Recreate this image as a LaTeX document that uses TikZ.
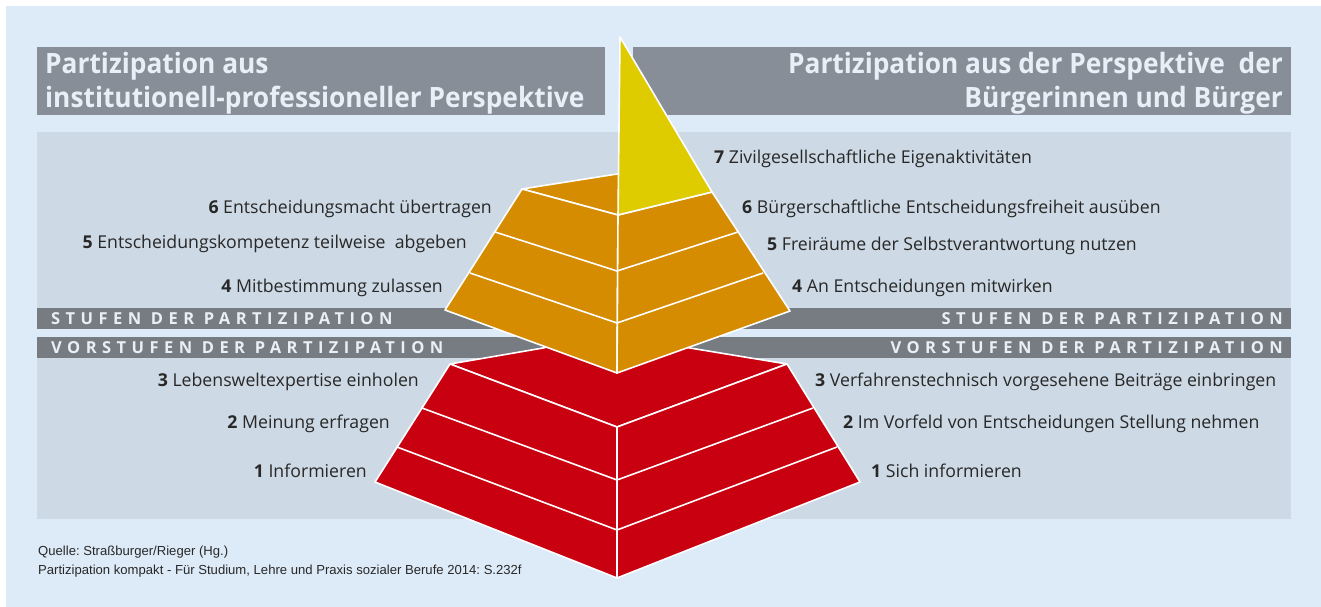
\documentclass[tikz,border=0pt]{standalone}
\usepackage{fontspec}
\setmainfont{Open Sans}
\newfontfamily\titlefont[FakeStretch=0.94]{Open Sans}
\newfontfamily\spacedfont[LetterSpace=33]{Open Sans}
\newfontfamily\srcfont{Liberation Sans}
\definecolor{outerbg}{RGB}{221,234,247}
\definecolor{panel}{RGB}{205,217,228}
\definecolor{titlegray}{RGB}{136,142,151}
\definecolor{bargray}{RGB}{118,124,130}
\definecolor{paletext}{RGB}{232,239,246}
\definecolor{pyyellow}{RGB}{222,203,0}
\definecolor{pyorange}{RGB}{214,140,0}
\definecolor{pyred}{RGB}{200,0,16}
\definecolor{labeltext}{RGB}{40,40,40}
\tikzset{
  face/.style={draw=white, line width=1.6pt, line join=round},
  tierline/.style={draw=white, line width=1.6pt},
  titletext/.style={inner sep=0pt, text=paletext, font=\titlefont\bfseries\fontsize{28}{33}\selectfont},
  bartext/.style={inner sep=0pt, text=paletext, font=\spacedfont\bfseries\fontsize{16.5}{18}\selectfont},
  lab/.style={inner sep=0pt, text=labeltext, font=\fontsize{17.7}{21}\selectfont},
  srctext/.style={inner sep=0pt, text=labeltext, anchor=base west, font=\srcfont\fontsize{13.1}{15}\selectfont}
}
\begin{document}
\frenchspacing
\begin{tikzpicture}[x=1pt,y=-1pt]
\useasboundingbox (0,0) rectangle (1321,607);
\fill[white] (0,0) rectangle (1321,607);
\fill[outerbg] (6,6) rectangle (1321,607);
% panels
\fill[panel] (37,132) rectangle (1291,308);
\fill[panel] (37,358) rectangle (1291,519);
\fill[bargray] (37,308) rectangle (1291,329);
\fill[bargray] (37,337) rectangle (1291,358);
% title boxes
\fill[titlegray] (37,47) rectangle (605,115);
\fill[titlegray] (633,47) rectangle (1291,115);
% bar texts
\node[bartext, anchor=base west] (stufenL) at (51,324.5) {STUFEN DER PARTIZIPATION};
\node[bartext, anchor=base west] (vorstufenL) at (51,353.5) {VORSTUFEN DER PARTIZIPATION};
\node[bartext, anchor=base east] (stufenR) at (1283,324.5) {STUFEN DER PARTIZIPATION};
\node[bartext, anchor=base east] (vorstufenR) at (1283,353.5) {VORSTUFEN DER PARTIZIPATION};
% red frustum
\path[face, fill=pyred] (450,364) -- (543,348) -- (617,330) -- (690,348) -- (787,364) -- (617,427) -- cycle;
\path[face, fill=pyred] (450,364) -- (617,427) -- (617,578) -- (375,482) -- cycle;
\path[face, fill=pyred] (787,364) -- (617,427) -- (617,578) -- (860,482) -- cycle;
\draw[tierline] (422,408) -- (617,480) -- (813,408);
\draw[tierline] (397,447) -- (617,530) -- (837,447);
% orange frustum
\path[face, fill=pyorange] (522,189) -- (617,174) -- (712,192) -- (618,215) -- cycle;
\path[face, fill=pyorange] (522,189) -- (618,215) -- (617,373) -- (445,310) -- cycle;
\path[face, fill=pyorange] (712,192) -- (618,215) -- (617,373) -- (790,311) -- cycle;
\draw[tierline] (495,232) -- (617,271) -- (738,232);
\draw[tierline] (470,273) -- (617,323) -- (763,273);
% yellow apex
\path[face, fill=pyyellow] (620,37) -- (712,192) -- (618,215) -- cycle;
% titles
\node[titletext, anchor=base west, align=left] (titleL) at (45,107) {Partizipation aus\\institutionell-professioneller Perspektive};
\node[titletext, anchor=base east, align=right] (titleR) at (1283,107) {Partizipation aus der Perspektive\ \ der\\B\"urgerinnen und B\"urger};
% left labels
\node[lab, anchor=base east] (l6) at (492,213) {\textbf{6} Entscheidungsmacht übertragen};
\node[lab, anchor=base east] (l5) at (467,248) {\textbf{5} Entscheidungskompetenz teilweise\ \ abgeben};
\node[lab, anchor=base east] (l4) at (443,292) {\textbf{4} Mitbestimmung zulassen};
\node[lab, anchor=base east] (l3) at (419,386) {\textbf{3} Lebensweltexpertise einholen};
\node[lab, anchor=base east] (l2) at (390,428) {\textbf{2} Meinung erfragen};
\node[lab, anchor=base east] (l1) at (367,477) {\textbf{1} Informieren};
% right labels
\node[lab, anchor=base west] (r7) at (714,163) {\textbf{7} Zivilgesellschaftliche Eigenaktivitäten};
\node[lab, anchor=base west] (r6) at (742,213) {\textbf{6} Bürgerschaftliche Entscheidungsfreiheit ausüben};
\node[lab, anchor=base west] (r5) at (767,250) {\textbf{5} Freiräume der Selbstverantwortung nutzen};
\node[lab, anchor=base west] (r4) at (792,292) {\textbf{4} An Entscheidungen mitwirken};
\node[lab, anchor=base west] (r3) at (815,386) {\textbf{3} Verfahrenstechnisch vorgesehene Beiträge einbringen};
\node[lab, anchor=base west] (r2) at (843,428) {\textbf{2} Im Vorfeld von Entscheidungen Stellung nehmen};
\node[lab, anchor=base west] (r1) at (871,477) {\textbf{1} Sich informieren};
% source
\node[srctext] (src1) at (38,555) {Quelle: Straßburger/Rieger (Hg.)};
\node[srctext] (src2) at (38,574) {Partizipation kompakt - Für Studium, Lehre und Praxis sozialer Berufe 2014: S.232f};
\end{tikzpicture}
\end{document}
